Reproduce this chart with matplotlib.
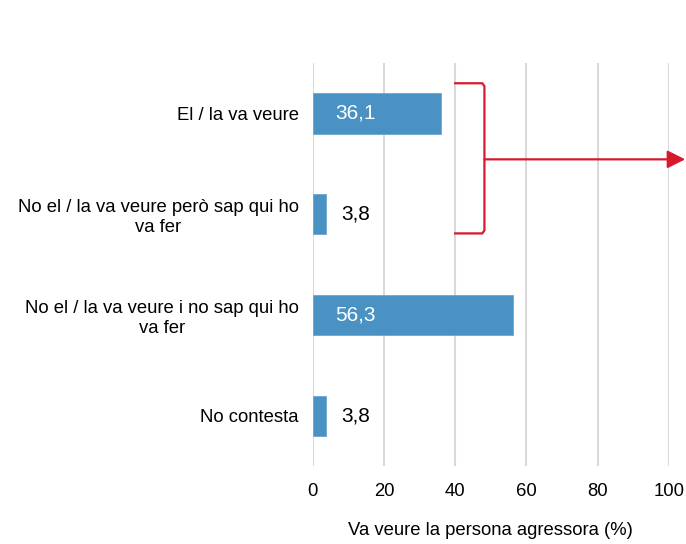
import numpy as np
import matplotlib.pyplot as plt
from matplotlib.patches import FancyArrowPatch

plt.rcParams['font.family'] = ['Liberation Sans', 'DejaVu Sans']

categories = [
    'El / la va veure',
    'No el / la va veure però sap qui ho\nva fer',
    'No el / la va veure i no sap qui ho\nva fer',
    'No contesta',
]
values = [36.1, 3.8, 56.3, 3.8]
labels = ['36,1', '3,8', '56,3', '3,8']
inside = [True, False, True, False]

bar_color = '#4a91c4'
red = '#d7192d'

fig = plt.figure(figsize=(6.86, 5.44), dpi=100)
ax = fig.add_axes([0.456, 0.143, 0.519, 0.741])

y = np.arange(len(categories))
ax.barh(y, values, height=0.4, color=bar_color, edgecolor='#6aa6d2', linewidth=0.6, zorder=3)

for yi, v, lab, ins in zip(y, values, labels, inside):
    if ins:
        ax.text(6.2, yi, lab, color='white', fontsize=15, va='center', ha='left', zorder=4)
    else:
        ax.text(v + 4.1, yi, lab, color='black', fontsize=15, va='center', ha='left', zorder=4)

ax.set_xlim(0, 100)
ax.set_ylim(3.5, -0.5)
ax.set_xticks([0, 20, 40, 60, 80, 100])
ax.set_yticks(y)
ax.set_yticklabels(categories, fontsize=13.3, multialignment='center')
ax.tick_params(axis='x', labelsize=13.3, length=0, pad=12)
ax.tick_params(axis='y', length=0, pad=10)
ax.grid(axis='x', color='#d9d9d9', linewidth=1.5, zorder=0)
for s in ax.spines.values():
    s.set_visible(False)
ax.set_xlabel('Va veure la persona agressora (%)', fontsize=13.3, labelpad=16)

# red bracket grouping the first two rows, with arrow
bx0, bx1 = 40, 48.2
ytop, ybot, yarr = -0.3, 1.19, 0.455
ax.plot([bx0, bx1 - 0.6, bx1, bx1, bx1 - 0.6, bx0],
        [ytop, ytop, ytop + 0.03, ybot - 0.03, ybot, ybot],
        color=red, linewidth=1.6, clip_on=False, zorder=5)
arrow = FancyArrowPatch((bx1, yarr), (104.6, yarr), arrowstyle='-|>', mutation_scale=27,
                        color=red, linewidth=1.6, clip_on=False, zorder=5, shrinkA=0, shrinkB=0)
ax.add_patch(arrow)

fig.savefig('out.png', dpi=100)
